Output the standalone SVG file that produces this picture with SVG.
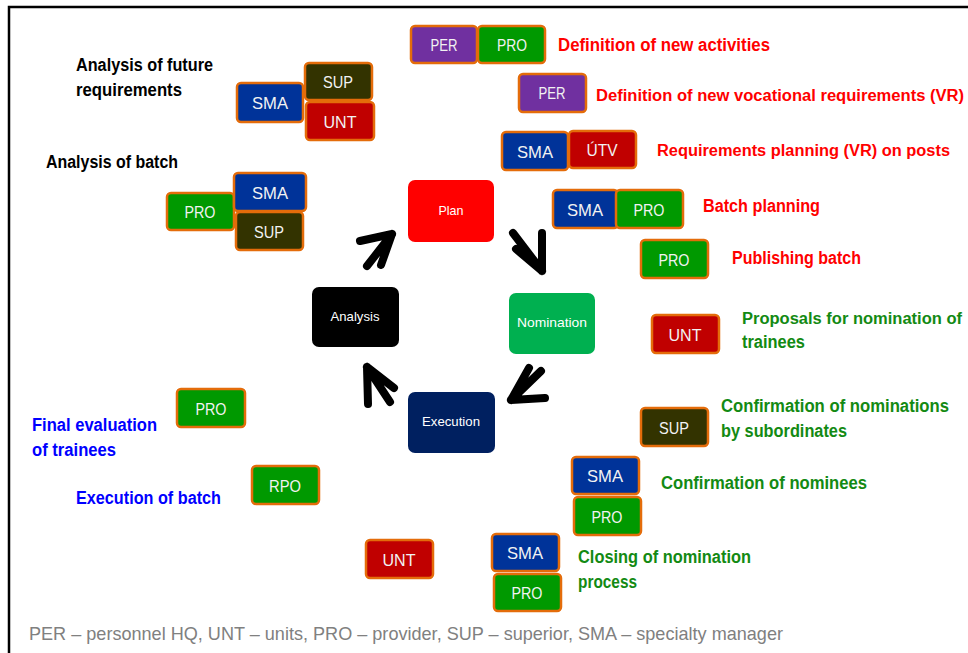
<svg xmlns="http://www.w3.org/2000/svg" width="968" height="653" viewBox="0 0 968 653">
<defs>
<style>
.tag rect{stroke:#E46C0A;stroke-width:2.5}
.tag text{font-family:"Liberation Sans",Arial,sans-serif;font-size:17px;fill:#F2F2F2;text-anchor:middle}
.per{fill:#7030A0}.pro{fill:#009900}.sma{fill:#003399}.sup{fill:#333300}.unt{fill:#C00000}
.proc text{font-family:"Liberation Sans",Arial,sans-serif;font-size:13px;fill:#FFFFFF;text-anchor:middle}
.lbl{font-family:"Liberation Sans",Arial,sans-serif;font-size:18px;font-weight:bold}
.sm{font-size:16px}
.blk{fill:#000000}.red{fill:#FF0000}.grn{fill:#138A13}.blu{fill:#0000FF}
.arr{fill:none;stroke:#000;stroke-width:8;stroke-linecap:round;stroke-linejoin:miter}
</style>
</defs>
<rect width="968" height="653" fill="#FFFFFF"/>
<path d="M9,653 V7 H968" fill="none" stroke="#000" stroke-width="2.5"/>

<!-- process nodes -->
<g id="plan" class="proc"><rect x="408" y="180" width="86" height="62" rx="7" fill="#FF0000"/><text x="451" y="215" textLength="25" lengthAdjust="spacingAndGlyphs">Plan</text></g>
<g id="nomination" class="proc"><rect x="509" y="293" width="86" height="61" rx="7" fill="#00B050"/><text x="552" y="327" textLength="70" lengthAdjust="spacingAndGlyphs">Nomination</text></g>
<g id="execution" class="proc"><rect x="408" y="392" width="87" height="61" rx="7" fill="#002060"/><text x="451" y="426" textLength="58" lengthAdjust="spacingAndGlyphs">Execution</text></g>
<g id="analysis" class="proc"><rect x="312" y="287" width="87" height="60" rx="7" fill="#000000"/><text x="355" y="321" textLength="49" lengthAdjust="spacingAndGlyphs">Analysis</text></g>

<!-- cycle connectors -->
<g id="connectors">
<path class="arr" d="M367,266 L392,234 M381,265 L392,234 M360,241 L392,234"/>
<path class="arr" d="M513,233 L542,271 M516,249 L542,271 M542,233 L542,271"/>
<path class="arr" d="M529,368 L511,400 M541,371 L511,400 M545,398 L511,400"/>
<path class="arr" d="M394,388 L367,367 M390,402 L367,367 M368,404 L367,367"/>
</g>

<!-- role tags -->
<g id="t-per1" class="tag"><rect class="per" x="411" y="26" width="66" height="37" rx="4"/><text x="444" y="51" textLength="27" lengthAdjust="spacingAndGlyphs">PER</text></g>
<g id="t-pro1" class="tag"><rect class="pro" x="478" y="26" width="67" height="37" rx="4"/><text x="512" y="51" textLength="30" lengthAdjust="spacingAndGlyphs">PRO</text></g>
<g id="t-per2" class="tag"><rect class="per" x="519" y="74" width="67" height="38" rx="4"/><text x="552" y="99" textLength="27" lengthAdjust="spacingAndGlyphs">PER</text></g>
<g id="t-sma1" class="tag"><rect class="sma" x="502" y="132" width="66" height="38" rx="4"/><text x="535" y="158" textLength="36" lengthAdjust="spacingAndGlyphs">SMA</text></g>
<g id="t-utv" class="tag"><rect class="unt" x="569" y="131" width="67" height="37" rx="4"/><text x="602" y="156" textLength="31" lengthAdjust="spacingAndGlyphs">ÚTV</text></g>
<g id="t-sma2" class="tag"><rect class="sma" x="553" y="190" width="65" height="38" rx="4"/><text x="585" y="216" textLength="36" lengthAdjust="spacingAndGlyphs">SMA</text></g>
<g id="t-pro2" class="tag"><rect class="pro" x="616" y="190" width="67" height="38" rx="4"/><text x="649" y="216" textLength="31" lengthAdjust="spacingAndGlyphs">PRO</text></g>
<g id="t-pro3" class="tag"><rect class="pro" x="641" y="240" width="67" height="38" rx="4"/><text x="674" y="266" textLength="31" lengthAdjust="spacingAndGlyphs">PRO</text></g>
<g id="t-unt1" class="tag"><rect class="unt" x="652" y="315" width="67" height="38" rx="4"/><text x="685" y="341" textLength="33" lengthAdjust="spacingAndGlyphs">UNT</text></g>
<g id="t-sup1" class="tag"><rect class="sup" x="641" y="408" width="67" height="38" rx="4"/><text x="674" y="434" textLength="30" lengthAdjust="spacingAndGlyphs">SUP</text></g>
<g id="t-sma3" class="tag"><rect class="sma" x="572" y="457" width="67" height="37" rx="4"/><text x="605" y="482" textLength="36" lengthAdjust="spacingAndGlyphs">SMA</text></g>
<g id="t-pro4" class="tag"><rect class="pro" x="574" y="497" width="67" height="38" rx="4"/><text x="607" y="523" textLength="31" lengthAdjust="spacingAndGlyphs">PRO</text></g>
<g id="t-sma4" class="tag"><rect class="sma" x="492" y="534" width="67" height="37" rx="4"/><text x="525" y="559" textLength="36" lengthAdjust="spacingAndGlyphs">SMA</text></g>
<g id="t-pro5" class="tag"><rect class="pro" x="494" y="574" width="67" height="37" rx="4"/><text x="527" y="599" textLength="31" lengthAdjust="spacingAndGlyphs">PRO</text></g>
<g id="t-unt2" class="tag"><rect class="unt" x="366" y="540" width="67" height="38" rx="4"/><text x="399" y="566" textLength="33" lengthAdjust="spacingAndGlyphs">UNT</text></g>
<g id="t-pro6" class="tag"><rect class="pro" x="177" y="389" width="68" height="38" rx="4"/><text x="211" y="415" textLength="31" lengthAdjust="spacingAndGlyphs">PRO</text></g>
<g id="t-rpo" class="tag"><rect class="pro" x="252" y="466" width="67" height="38" rx="4"/><text x="285" y="492" textLength="32" lengthAdjust="spacingAndGlyphs">RPO</text></g>
<g id="t-sma5" class="tag"><rect class="sma" x="237" y="83" width="66" height="39" rx="4"/><text x="270" y="109" textLength="36" lengthAdjust="spacingAndGlyphs">SMA</text></g>
<g id="t-sup2" class="tag"><rect class="sup" x="305" y="63" width="67" height="37" rx="4"/><text x="338" y="88" textLength="30" lengthAdjust="spacingAndGlyphs">SUP</text></g>
<g id="t-unt3" class="tag"><rect class="unt" x="306" y="102" width="68" height="38" rx="4"/><text x="340" y="128" textLength="33" lengthAdjust="spacingAndGlyphs">UNT</text></g>
<g id="t-pro7" class="tag"><rect class="pro" x="167" y="193" width="67" height="37" rx="4"/><text x="200" y="218" textLength="31" lengthAdjust="spacingAndGlyphs">PRO</text></g>
<g id="t-sma6" class="tag"><rect class="sma" x="234" y="173" width="72" height="38" rx="4"/><text x="270" y="199" textLength="36" lengthAdjust="spacingAndGlyphs">SMA</text></g>
<g id="t-sup3" class="tag"><rect class="sup" x="236" y="212" width="67" height="38" rx="4"/><text x="269" y="238" textLength="30" lengthAdjust="spacingAndGlyphs">SUP</text></g>

<!-- labels -->
<g id="labels">
<text class="lbl blk" x="76" y="71" textLength="137" lengthAdjust="spacingAndGlyphs">Analysis of future</text>
<text class="lbl blk" x="76" y="96" textLength="106" lengthAdjust="spacingAndGlyphs">requirements</text>
<text class="lbl blk" x="46" y="168" textLength="132" lengthAdjust="spacingAndGlyphs">Analysis of batch</text>
<text class="lbl red" x="558" y="51" textLength="212" lengthAdjust="spacingAndGlyphs">Definition of new activities</text>
<text class="lbl red sm" x="596" y="101" textLength="368" lengthAdjust="spacingAndGlyphs">Definition of new vocational requirements (VR)</text>
<text class="lbl red sm" x="657" y="156" textLength="293" lengthAdjust="spacingAndGlyphs">Requirements planning (VR) on posts</text>
<text class="lbl red" x="703" y="212" textLength="117" lengthAdjust="spacingAndGlyphs">Batch planning</text>
<text class="lbl red" x="732" y="264" textLength="129" lengthAdjust="spacingAndGlyphs">Publishing batch</text>
<text class="lbl grn sm" x="742" y="324" textLength="220" lengthAdjust="spacingAndGlyphs">Proposals for nomination of</text>
<text class="lbl grn" x="742" y="348" textLength="63" lengthAdjust="spacingAndGlyphs">trainees</text>
<text class="lbl grn" x="721" y="412" textLength="228" lengthAdjust="spacingAndGlyphs">Confirmation of nominations</text>
<text class="lbl grn" x="721" y="437" textLength="126" lengthAdjust="spacingAndGlyphs">by subordinates</text>
<text class="lbl grn" x="661" y="489" textLength="206" lengthAdjust="spacingAndGlyphs">Confirmation of nominees</text>
<text class="lbl grn" x="578" y="563" textLength="173" lengthAdjust="spacingAndGlyphs">Closing of nomination</text>
<text class="lbl grn" x="578" y="588" textLength="59" lengthAdjust="spacingAndGlyphs">process</text>
<text class="lbl blu" x="32" y="431" textLength="125" lengthAdjust="spacingAndGlyphs">Final evaluation</text>
<text class="lbl blu" x="32" y="456" textLength="84" lengthAdjust="spacingAndGlyphs">of trainees</text>
<text class="lbl blu" x="76" y="504" textLength="145" lengthAdjust="spacingAndGlyphs">Execution of batch</text>
<text x="29" y="640" font-family="Liberation Sans, Arial, sans-serif" font-size="19" fill="#808080" textLength="754" lengthAdjust="spacingAndGlyphs">PER – personnel HQ, UNT – units, PRO – provider, SUP – superior, SMA – specialty manager</text>
</g>
</svg>
